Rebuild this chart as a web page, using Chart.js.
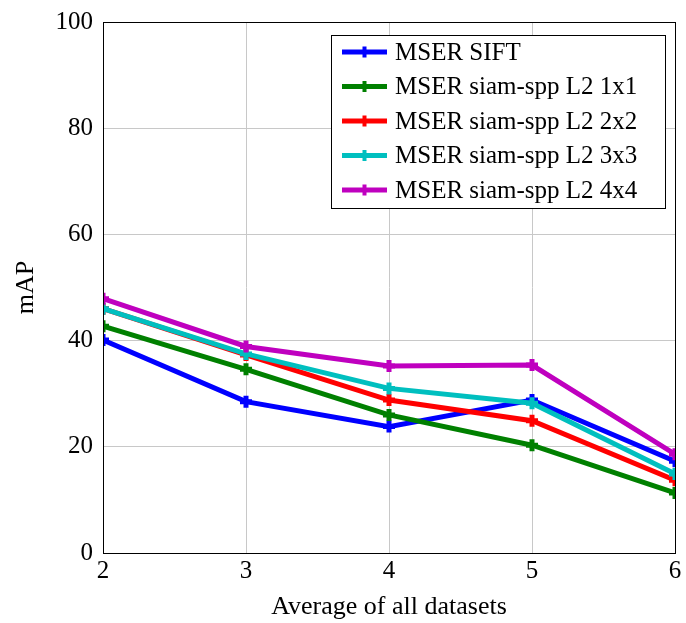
<!DOCTYPE html>
<html><head><meta charset="utf-8">
<script src="https://cdn.jsdelivr.net/npm/chart.js@4/dist/chart.umd.min.js"></script>
<style>html,body{margin:0;padding:0;background:#fff}#wrap{width:686px;height:623px;position:relative}</style>
</head><body><div id="wrap"><canvas id="c" width="686" height="623"></canvas></div>
<script>
const xValues = [2, 3, 4, 5, 6];
const seriesNames = ["MSER SIFT", "MSER siam-spp L2 1x1", "MSER siam-spp L2 2x2", "MSER siam-spp L2 3x3", "MSER siam-spp L2 4x4"];
const siftValues = [40.1, 28.5, 23.8, 28.8, 17.3];
const spp1Values = [42.7, 34.6, 26.0, 20.3, 11.3];
const spp2Values = [46.0, 37.3, 28.8, 24.9, 13.7];
const spp3Values = [46.0, 37.5, 31.0, 28.2, 14.9];
const spp4Values = [47.9, 38.9, 35.2, 35.4, 18.6];
const yTicks = [0, 20, 40, 60, 80, 100];
const colors = ["#0000ff", "#008000", "#ff0000", "#00bfbf", "#bf00bf"];
const allSeries = [siftValues, spp1Values, spp2Values, spp3Values, spp4Values];
const FONT = "'Liberation Serif', 'DejaVu Serif', serif";

const datasets = allSeries.map((vals, i) => ({
  label: seriesNames[i],
  data: vals.map((v, j) => ({x: xValues[j], y: v})),
  borderColor: colors[i],
  backgroundColor: colors[i],
  borderWidth: 5,
  pointStyle: 'cross',
  pointRadius: 6,
  pointBorderWidth: 5,
  pointHoverRadius: 6,
  tension: 0,
  order: 5 - i
}));

const legendPlugin = {
  id: 'boxLegend',
  afterDatasetsDraw(chart) {
    const ctx = chart.ctx;
    const x0 = 331, y0 = 35, w = 334, h = 173;
    ctx.save();
    ctx.fillStyle = '#fff';
    ctx.fillRect(x0, y0, w, h);
    ctx.strokeStyle = '#000';
    ctx.lineWidth = 1;
    ctx.strokeRect(x0 + 0.5, y0 + 0.5, w, h);
    ctx.font = "25px " + FONT;
    ctx.textBaseline = 'middle';
    chart.data.datasets.forEach((ds, i) => {
      const y = y0 + 17 + i * 34.5;
      ctx.strokeStyle = ds.borderColor;
      ctx.lineWidth = 5;
      ctx.beginPath(); ctx.moveTo(342, y); ctx.lineTo(387, y); ctx.stroke();
      ctx.lineWidth = 4;
      ctx.beginPath(); ctx.moveTo(364.5, y - 5.5); ctx.lineTo(364.5, y + 5.5); ctx.moveTo(359, y); ctx.lineTo(370, y); ctx.stroke();
      ctx.fillStyle = '#000';
      ctx.fillText(ds.label, 395, y + 1);
    });
    ctx.restore();
  }
};

new Chart(document.getElementById('c'), {
  type: 'line',
  data: { datasets },
  options: {
    responsive: false,
    animation: false,
    layout: { padding: { top: 22, right: 2, left: 0, bottom: 0 } },
    plugins: { legend: { display: false }, tooltip: { enabled: false } },
    scales: {
      x: {
        type: 'linear', min: 2, max: 6,
        afterBuildTicks(s) { s.ticks = xValues.map(v => ({value: v})); },
        afterFit(s) { s.height = 70; s.paddingLeft = 0; s.paddingRight = 0; },
        grid: { color: '#c8c8c8', lineWidth: 1, drawTicks: false },
        border: { color: '#000', width: 1 },
        ticks: { font: { family: FONT, size: 25 }, color: '#000', padding: 3 },
        title: { display: true, text: 'Average of all datasets', font: { family: FONT, size: 26 }, color: '#000', padding: { top: 0, bottom: 0 } }
      },
      y: {
        type: 'linear', min: 0, max: 100,
        afterBuildTicks(s) { s.ticks = yTicks.map(v => ({value: v})); },
        afterFit(s) { s.width = 103; s.paddingTop = 0; s.paddingBottom = 0; },
        grid: { color: '#c8c8c8', lineWidth: 1, drawTicks: false },
        border: { color: '#000', width: 1 },
        ticks: { font: { family: FONT, size: 25 }, color: '#000', padding: 10 },
        title: { display: true, text: 'mAP', font: { family: FONT, size: 26 }, color: '#000', padding: { top: 11, bottom: 0 } }
      }
    }
  },
  plugins: [legendPlugin, {
    id: 'frame',
    afterDraw(chart) {
      const a = chart.chartArea, ctx = chart.ctx;
      ctx.save(); ctx.strokeStyle = '#000'; ctx.lineWidth = 1;
      ctx.strokeRect(Math.round(a.left) + 0.5, Math.round(a.top) + 0.5, Math.round(a.right - a.left), Math.round(a.bottom - a.top));
      ctx.restore();
    }
  }, {
    id: 'bg',
    beforeDraw(chart) { const ctx = chart.ctx; ctx.save(); ctx.fillStyle = '#fff'; ctx.fillRect(0, 0, chart.width, chart.height); ctx.restore(); }
  }]
});
</script></body></html>
